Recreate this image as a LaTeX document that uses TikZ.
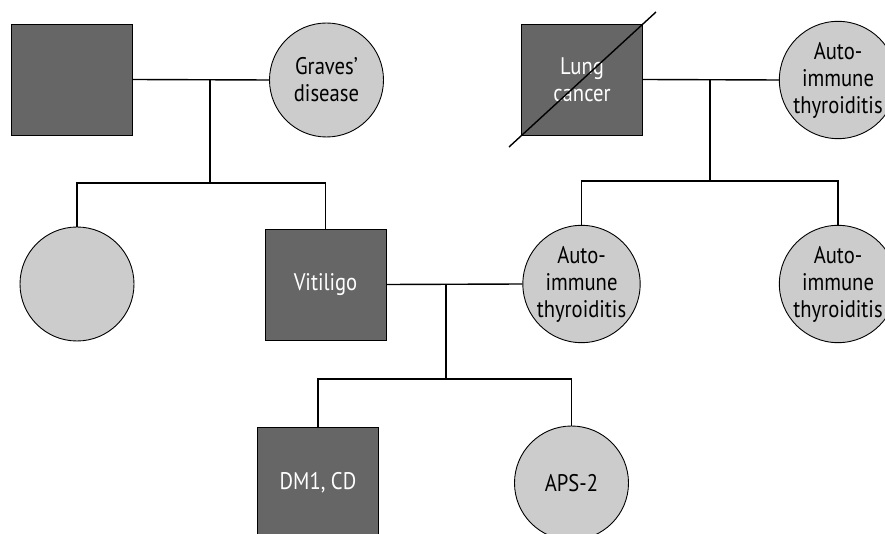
\documentclass[tikz,border=0pt]{standalone}
\usepackage{fontspec}
\setmainfont[FakeStretch=0.86]{PT Sans}
\definecolor{affected}{HTML}{666666}
\definecolor{carrier}{HTML}{CCCCCC}
\begin{document}
\begin{tikzpicture}[x=1pt,y=-1pt,
  male/.style={rectangle,draw=black,line width=0.9pt,fill=affected,minimum width=121pt,minimum height=111pt,inner sep=0pt,text=white,align=center,font=\fontsize{24}{27}\selectfont},
  female/.style={circle,draw=black,line width=0.9pt,fill=carrier,minimum size=114pt,inner sep=0pt,text=black,align=center,font=\fontsize{24}{27}\selectfont},
  link/.style={draw=black,line width=1.4pt}]
\clip (0,0) rectangle (885,534);
\fill[white] (0,0) rectangle (885,534);
% generation I
\node[male] (a) at (71.5,79.5) {};
\node[female] (b) at (326.5,80) {Graves'\\disease};
\node[male] (c) at (582,79.5) {Lung\\cancer};
\node[female] (d) at (838,80) {Auto-\\immune\\thyroiditis};
% generation II
\node[female] (e) at (77,284) {};
\node[male] (f) at (325.5,284.5) {Vitiligo};
\node[female] (g) at (581.5,284) {Auto-\\immune\\thyroiditis};
\node[female] (h) at (838,284) {Auto-\\immune\\thyroiditis};
% generation III
\node[male] (i) at (318,482.5) {DM1, CD};
\node[female] (j) at (571.5,483) {APS-2};
% junctions
\coordinate (m1) at (210,80);
\coordinate (s1) at (210,183);
\coordinate (m2) at (710,80);
\coordinate (s2) at (710,181);
\coordinate (m3) at (446,284.5);
\coordinate (s3) at (446,379);
% couple 1
\draw[link] (a.east) -- (b.west);
\draw[link] (m1) -- (s1);
\draw[link] (e.north) |- (s1) -| (f.north);
% couple 2
\draw[link] (c.east) -- (d.west);
\draw[link] (m2) -- (s2);
\draw[link] (g.north) |- (s2) -| (h.north);
% couple 3
\draw[link] (f.east) -- (g.west);
\draw[link] (m3) -- (s3);
\draw[link] (i.north) |- (s3) -| (j.north);
% deceased
\coordinate (dd1) at (509,147);
\coordinate (dd2) at (656,12);
\draw[link] (dd1) -- (dd2);
\end{tikzpicture}
\end{document}
